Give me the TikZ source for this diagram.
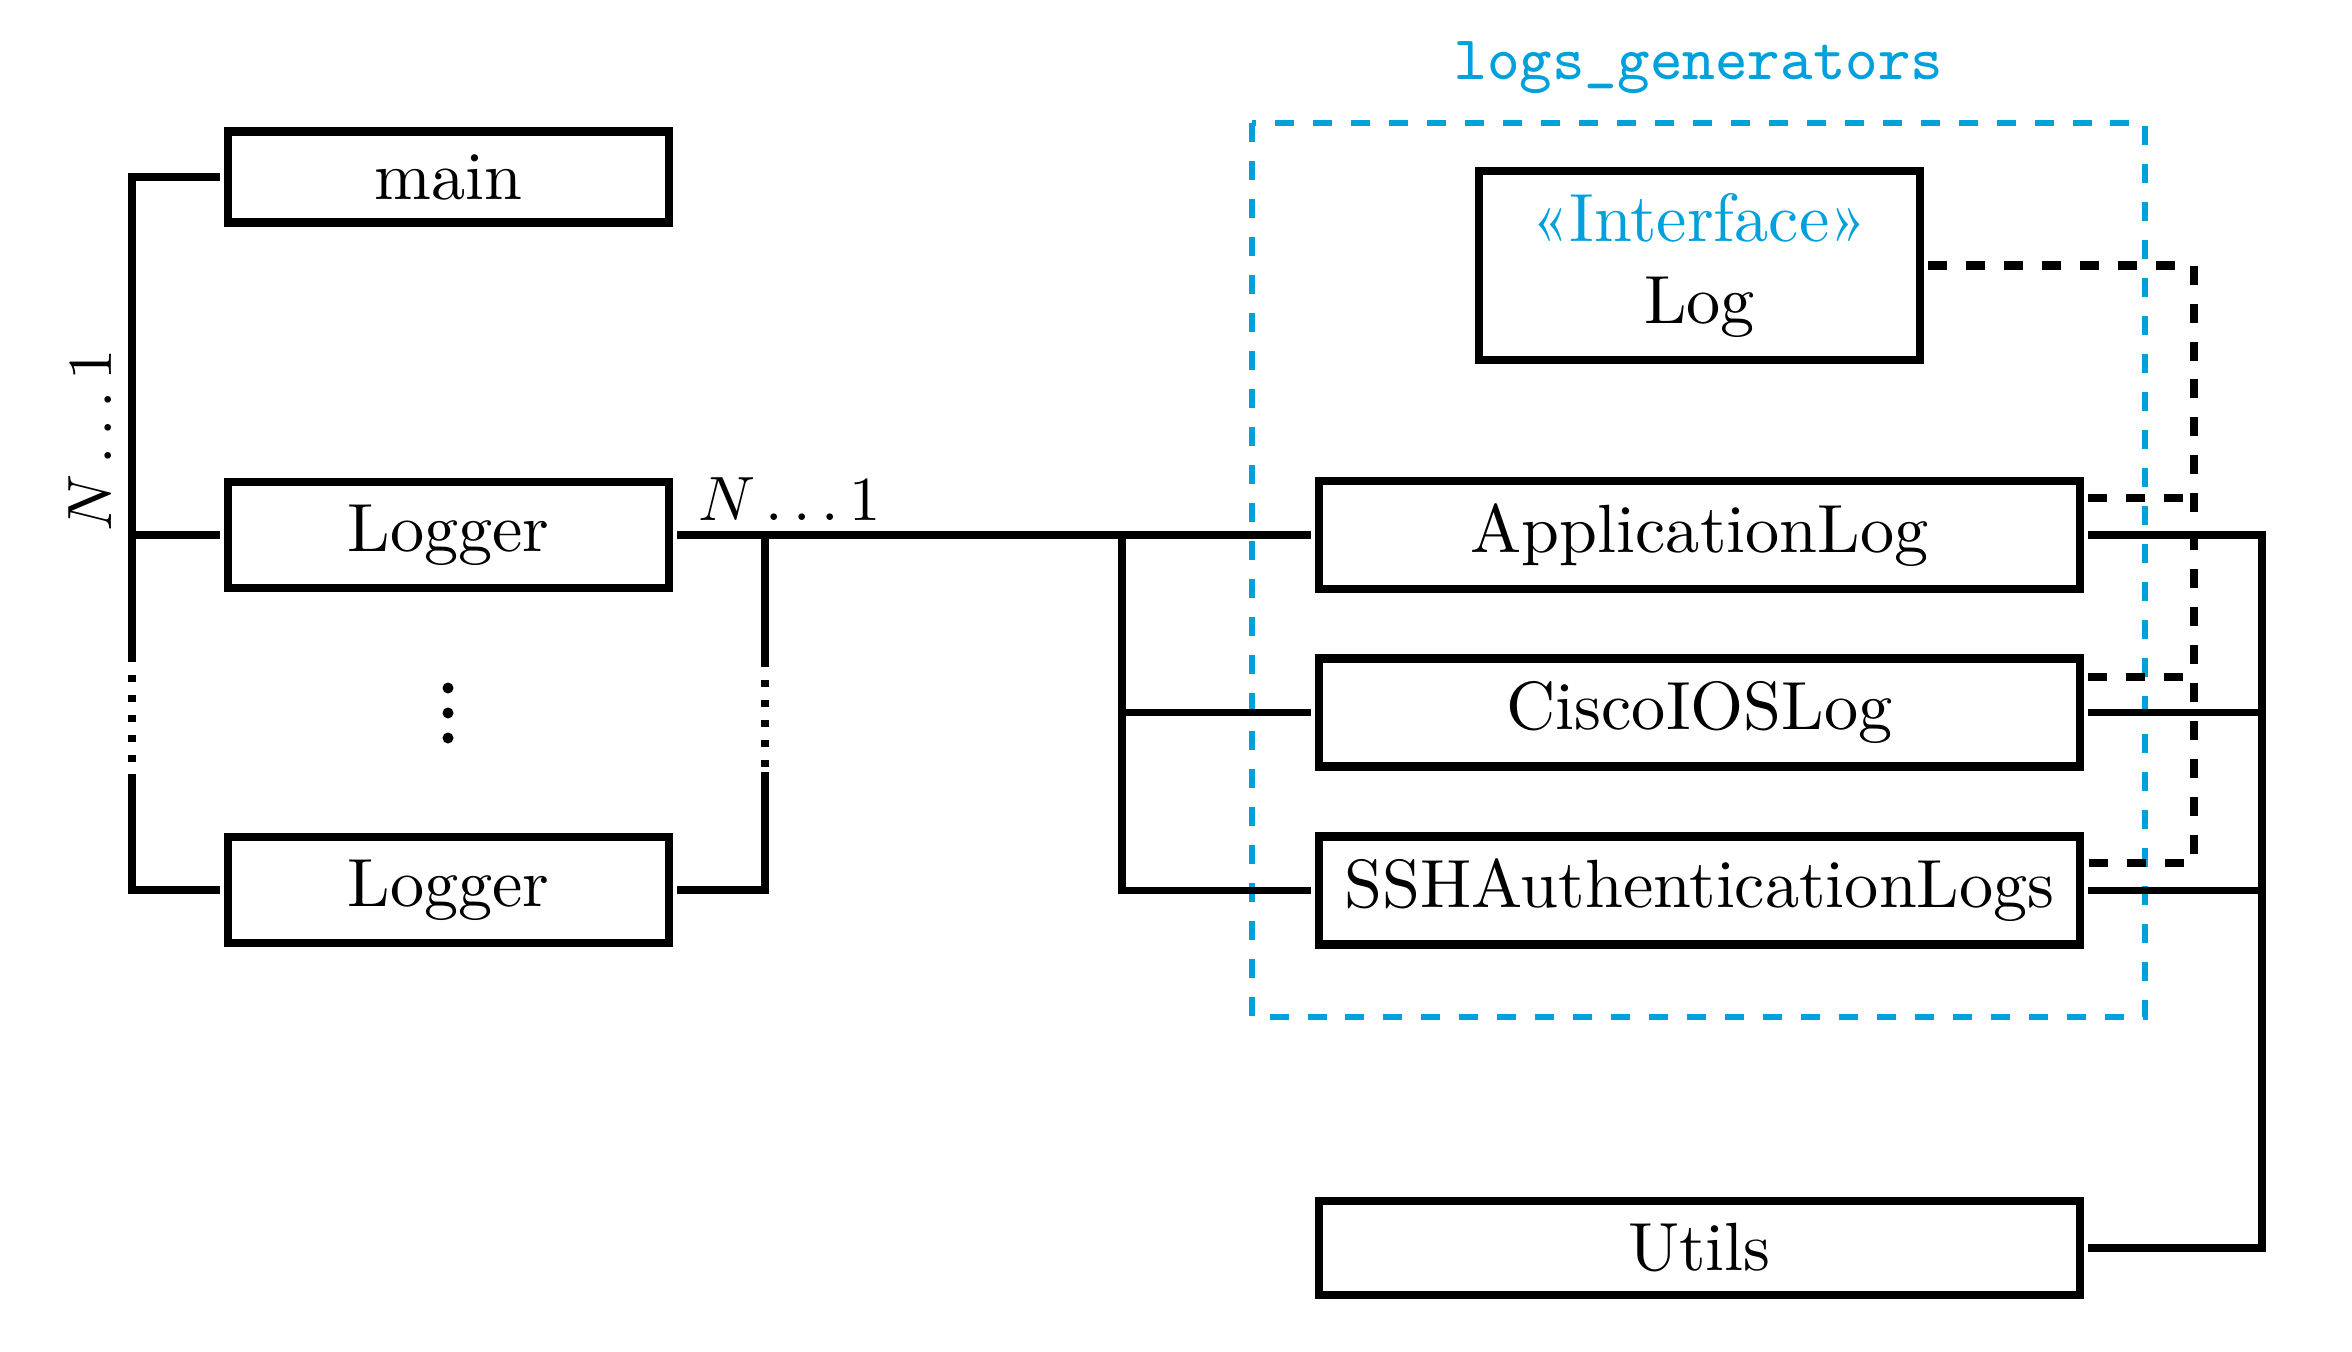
\documentclass[tikz,border=0pt]{standalone}
\usetikzlibrary{calc}
\definecolor{pkgblue}{RGB}{0,160,220}
\begin{document}
\begin{tikzpicture}[x=0.01cm,y=-0.01cm,
  box/.style={draw, line width=2.4pt, scale=1.94, font=\fontsize{10}{12}\selectfont},
  smallbox/.style={box, minimum width=2.272cm},
  bigbox/.style={box, minimum width=3.918cm},
  conn/.style={line width=2.2pt},
  dotconn/.style={line width=2.2pt, dash pattern=on 2pt off 3.7pt},
  dashconn/.style={line width=2.4pt, dash pattern=on 5.4pt off 5.4pt},
  pkgframe/.style={draw=pkgblue, line width=1.8pt, dash pattern=on 5.4pt off 5.4pt},
  lbl/.style={inner sep=0pt, scale=1.94, font=\fontsize{10}{12}\selectfont},
  dotmark/.style={fill=black, circle, inner sep=0pt, minimum size=0.11cm}]
\useasboundingbox (0,0) rectangle (2352,1352);

% package frame
\draw[pkgframe] (1252,123) rectangle (2145,1017);
\node[lbl, anchor=base, text=pkgblue, font=\fontsize{9.1}{11}\ttfamily] (pkgname) at (1699,80) {logs\_generators};

% left boxes
\node[smallbox] (main) at (448.5,177) {main};
\node[smallbox] (logA) at (448.5,535) {Logger};
\node[smallbox] (logB) at (448.5,890) {Logger};
\node[dotmark] (dotA) at (448,688) {};
\node[dotmark] (dotB) at (448,713) {};
\node[dotmark] (dotC) at (448,738) {};

% right boxes
\node[smallbox, align=center] (iface) at (1699.5,265.5) {\textcolor{pkgblue}{«Interface»}\\Log};
\node[bigbox] (app) at (1699.5,535) {ApplicationLog};
\node[bigbox] (cisco) at (1699.5,712.5) {CiscoIOSLog};
\node[bigbox] (ssh) at (1699.5,890.5) {SSHAuthenticationLogs};
\node[bigbox] (utils) at (1699.5,1248) {Utils};

% bus coordinates
\coordinate (lbus) at (132,0);
\coordinate (rbus) at (765,0);
\coordinate (mbus) at (1122,0);
\coordinate (ubus) at (2262,0);
\coordinate (dbus) at (2194,0);
\coordinate (lgapA) at (132,655);
\coordinate (lgapB) at (132,770);
\coordinate (lgapC) at (132,774);
\coordinate (rgapA) at (765,660);
\coordinate (rgapB) at (765,770);
\coordinate (rgapC) at (765,772);

% left bus
\draw[conn] (main.west) -- (main.west -| lbus) -- (logA.west -| lbus) -- (lgapA);
\draw[conn] (logA.west -| lbus) -- (logA.west);
\draw[dotconn] (lgapA) -- (lgapB);
\draw[conn] (lgapC) -- (logB.west -| lbus) -- (logB.west);
\node[lbl, scale=0.918, anchor=base west, rotate=90] (multA) at (111,533) {$N\ldots1$};

% logger right bus
\draw[conn] (logA.east) -- (app.west);
\draw[conn] (logA.east -| rbus) -- (rgapA);
\draw[dotconn] (rgapA) -- (rgapB);
\draw[conn] (rgapC) -- (logB.east -| rbus) -- (logB.east);
\node[lbl, scale=0.918, anchor=base west] (multB) at (697,520) {$N\ldots1$};

% middle bus
\draw[conn] (app.west -| mbus) -- (ssh.west -| mbus) -- (ssh.west);
\draw[conn] (cisco.west -| mbus) -- (cisco.west);

% right solid bus to Utils
\draw[conn] (app.east) -- (app.east -| ubus) -- (utils.east -| ubus) -- (utils.east);
\draw[conn] (cisco.east) -- (cisco.east -| ubus);
\draw[conn] (ssh.east) -- (ssh.east -| ubus);

% dashed realisation lines to the interface
\coordinate (sshd) at ([yshift=0.275cm]ssh.east);
\coordinate (appd) at ([yshift=0.37cm]app.east);
\coordinate (ciscod) at ([yshift=0.355cm]cisco.east);
\draw[dashconn] (iface.east) -- (iface.east -| dbus) -- (sshd -| dbus) -- (sshd);
\draw[dashconn] (appd) -- (appd -| dbus);
\draw[dashconn] (ciscod) -- (ciscod -| dbus);
\end{tikzpicture}
\end{document}
